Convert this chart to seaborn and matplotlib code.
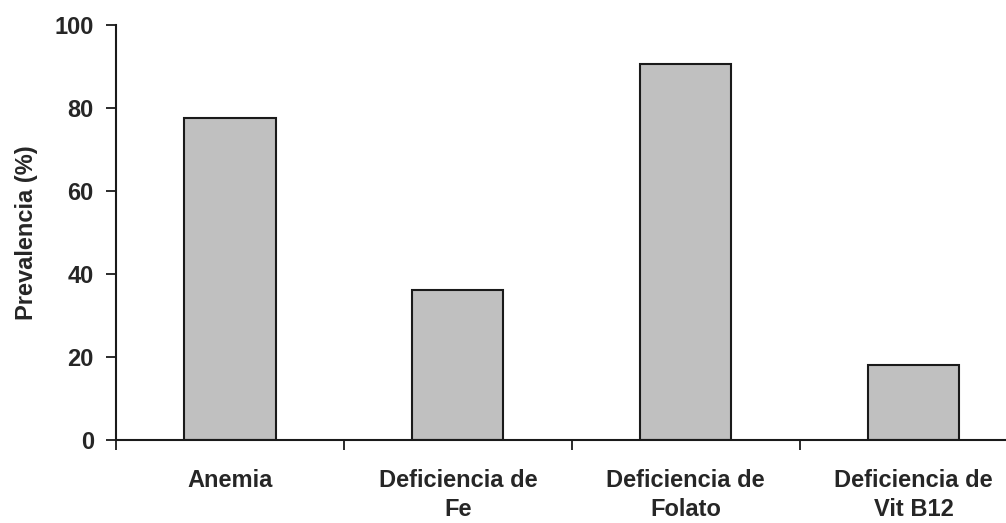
import matplotlib
matplotlib.use("Agg")
import matplotlib.pyplot as plt
import seaborn as sns
import pandas as pd

# datos del grafico
categorias = ["Anemia", "Deficiencia de\nFe", "Deficiencia de\nFolato", "Deficiencia de\nVit B12"]
prevalencia = [77.6, 36.2, 90.7, 18.1]

df = pd.DataFrame({"categoria": categorias, "prevalencia": prevalencia})

sns.set_style("white")
plt.rcParams["font.family"] = ["Liberation Sans", "DejaVu Sans"]

fig = plt.figure(figsize=(10.06, 5.23), dpi=100)
ax = fig.add_axes([0.1153, 0.1587, 0.9061, 0.7935])

sns.barplot(data=df, x="categoria", y="prevalencia", color="#C0C0C0",
            edgecolor="#1a1a1a", linewidth=1.5, width=0.4, saturation=1, ax=ax)

ax.set_ylim(0, 100)
ax.set_xlim(-0.5, 3.5)
ax.set_yticks(range(0, 101, 20))
ax.tick_params(axis="y", direction="out", length=7, width=1.3, color="#1a1a1a",
               labelsize=17, pad=9, left=True)
for t in ax.get_yticklabels():
    t.set_fontweight("bold")

# etiquetas en el centro, marcas en los limites de categoria
ax.set_xticks([-0.5, 0.5, 1.5, 2.5, 3.5])
ax.set_xticklabels([])
ax.set_xticks(range(len(categorias)), minor=True)
ax.set_xticklabels(categorias, minor=True, fontsize=17, fontweight="bold",
                   linespacing=1.35)
ax.tick_params(axis="x", which="major", direction="out", length=7, width=1.3,
               color="#1a1a1a", bottom=True)
ax.tick_params(axis="x", which="minor", length=0, pad=21)

ax.set_xlabel("")
ax.set_ylabel("Prevalencia (%)", fontsize=17, fontweight="bold")
ax.yaxis.set_label_coords(-0.086, 0.5)

sns.despine(ax=ax)
for s in ["left", "bottom"]:
    ax.spines[s].set_linewidth(1.5)
    ax.spines[s].set_color("#1a1a1a")

fig.savefig("out.png", dpi=100)
